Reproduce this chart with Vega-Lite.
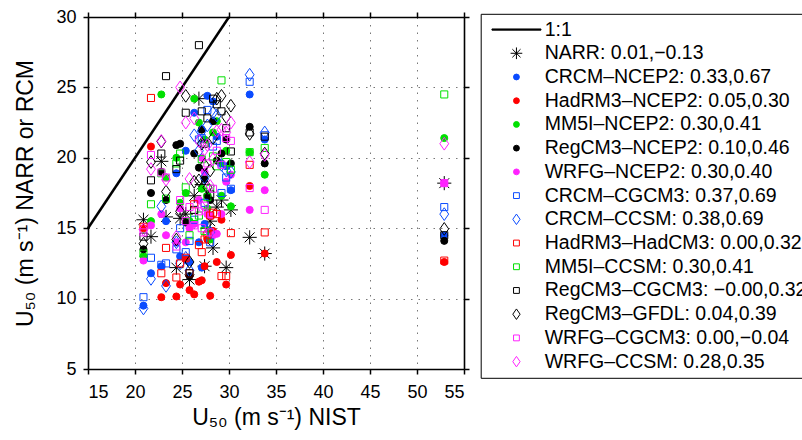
{
  "$schema": "https://vega.github.io/schema/vega-lite/v6.json",
  "autosize": {"type": "none"},
  "padding": {"left": 88, "top": 17, "right": 338, "bottom": 71},
  "width": 376,
  "height": 352,
  "config": {
    "font": "Liberation Sans",
    "view": {"stroke": null},
    "axis": {
      "domainColor": "black", "domainWidth": 1.6,
      "tickColor": "black", "tickWidth": 1.5, "tickSize": 5,
      "labelFont": "Liberation Sans", "labelFontSize": 18, "labelColor": "black",
      "titleFont": "Liberation Sans", "titleFontSize": 23, "titleFontWeight": "normal", "titleColor": "black",
      "gridColor": "#777777", "gridDash": [1.5, 6], "gridWidth": 1
    }
  },
  "layer": [
    {
      "data": {"values": [{"x": 15, "y": 15}, {"x": 30, "y": 30}]},
      "mark": {"type": "line", "stroke": "black", "strokeWidth": 2.5},
      "encoding": {
        "x": {"field": "x", "type": "quantitative",
          "scale": {"domain": [15, 55], "nice": false, "zero": false},
          "axis": {"orient": "bottom", "values": [15, 20, 25, 30, 35, 40, 45, 50, 55], "grid": true, "labelPadding": 9, "titlePadding": 5, "title": "U₅₀ (m s⁻¹) NIST"}},
        "y": {"field": "y", "type": "quantitative",
          "scale": {"domain": [5, 30], "nice": false, "zero": false},
          "axis": {"orient": "left", "values": [5, 10, 15, 20, 25, 30], "grid": true, "labelPadding": 7, "titlePadding": 18, "title": "U₅₀ (m s⁻¹) NARR or RCM"}}
      }
    },
    {
      "data": {"values": [
        {"m":"NARR","x":20.9,"y":15.6},{"m":"NARR","x":21.7,"y":14.4},{"m":"NARR","x":22.8,"y":19.75},{"m":"NARR","x":23.3,"y":15.8},{"m":"NARR","x":24.4,"y":12.2},{"m":"NARR","x":24.8,"y":15.7},{"m":"NARR","x":25.4,"y":16.0},{"m":"NARR","x":25.8,"y":11.35},{"m":"NARR","x":26.3,"y":17.3},{"m":"NARR","x":26.8,"y":24.2},{"m":"NARR","x":27.1,"y":18.1},{"m":"NARR","x":27.4,"y":12.3},{"m":"NARR","x":27.7,"y":15.0},{"m":"NARR","x":28.0,"y":15.5},{"m":"NARR","x":28.3,"y":13.6},{"m":"NARR","x":28.7,"y":16.5},{"m":"NARR","x":29.2,"y":17.0},{"m":"NARR","x":29.7,"y":12.2},{"m":"NARR","x":30.2,"y":16.3},{"m":"NARR","x":32.2,"y":14.35},{"m":"NARR","x":33.8,"y":13.2},{"m":"NARR","x":52.9,"y":18.2},
        {"m":"CRCM-NCEP2","x":20.9,"y":9.5},{"m":"CRCM-NCEP2","x":21.7,"y":11.8},{"m":"CRCM-NCEP2","x":22.8,"y":12.3},{"m":"CRCM-NCEP2","x":23.3,"y":15.5},{"m":"CRCM-NCEP2","x":24.4,"y":18.9},{"m":"CRCM-NCEP2","x":24.8,"y":13.0},{"m":"CRCM-NCEP2","x":25.4,"y":20.5},{"m":"CRCM-NCEP2","x":25.8,"y":12.6},{"m":"CRCM-NCEP2","x":26.3,"y":23.2},{"m":"CRCM-NCEP2","x":26.8,"y":14.0},{"m":"CRCM-NCEP2","x":27.1,"y":12.2},{"m":"CRCM-NCEP2","x":27.4,"y":15.3},{"m":"CRCM-NCEP2","x":27.7,"y":24.4},{"m":"CRCM-NCEP2","x":28.0,"y":14.6},{"m":"CRCM-NCEP2","x":28.3,"y":24.0},{"m":"CRCM-NCEP2","x":28.7,"y":21.5},{"m":"CRCM-NCEP2","x":29.2,"y":19.6},{"m":"CRCM-NCEP2","x":29.7,"y":19.4},{"m":"CRCM-NCEP2","x":30.2,"y":17.7},{"m":"CRCM-NCEP2","x":32.2,"y":24.5},{"m":"CRCM-NCEP2","x":33.8,"y":21.3},{"m":"CRCM-NCEP2","x":52.9,"y":14.5},
        {"m":"HadRM3-NCEP2","x":20.9,"y":15.0},{"m":"HadRM3-NCEP2","x":21.7,"y":20.8},{"m":"HadRM3-NCEP2","x":22.8,"y":10.1},{"m":"HadRM3-NCEP2","x":23.3,"y":11.1},{"m":"HadRM3-NCEP2","x":24.4,"y":10.15},{"m":"HadRM3-NCEP2","x":24.8,"y":11.0},{"m":"HadRM3-NCEP2","x":25.4,"y":12.8},{"m":"HadRM3-NCEP2","x":25.8,"y":10.6},{"m":"HadRM3-NCEP2","x":26.3,"y":10.3},{"m":"HadRM3-NCEP2","x":26.8,"y":11.2},{"m":"HadRM3-NCEP2","x":27.1,"y":11.3},{"m":"HadRM3-NCEP2","x":27.4,"y":12.3},{"m":"HadRM3-NCEP2","x":27.7,"y":14.2},{"m":"HadRM3-NCEP2","x":28.0,"y":10.2},{"m":"HadRM3-NCEP2","x":28.3,"y":14.8},{"m":"HadRM3-NCEP2","x":28.7,"y":12.6},{"m":"HadRM3-NCEP2","x":29.2,"y":15.6},{"m":"HadRM3-NCEP2","x":29.7,"y":11.0},{"m":"HadRM3-NCEP2","x":30.2,"y":13.1},{"m":"HadRM3-NCEP2","x":32.2,"y":18.0},{"m":"HadRM3-NCEP2","x":33.8,"y":13.2},{"m":"HadRM3-NCEP2","x":52.9,"y":12.6},
        {"m":"MM5I-NCEP2","x":20.9,"y":13.0},{"m":"MM5I-NCEP2","x":21.7,"y":15.5},{"m":"MM5I-NCEP2","x":22.8,"y":24.5},{"m":"MM5I-NCEP2","x":23.3,"y":18.6},{"m":"MM5I-NCEP2","x":24.4,"y":20.0},{"m":"MM5I-NCEP2","x":24.8,"y":16.8},{"m":"MM5I-NCEP2","x":25.4,"y":17.5},{"m":"MM5I-NCEP2","x":25.8,"y":15.5},{"m":"MM5I-NCEP2","x":26.3,"y":24.2},{"m":"MM5I-NCEP2","x":26.8,"y":22.5},{"m":"MM5I-NCEP2","x":27.1,"y":17.8},{"m":"MM5I-NCEP2","x":27.4,"y":21.3},{"m":"MM5I-NCEP2","x":27.7,"y":16.4},{"m":"MM5I-NCEP2","x":28.0,"y":14.2},{"m":"MM5I-NCEP2","x":28.3,"y":21.8},{"m":"MM5I-NCEP2","x":28.7,"y":22.6},{"m":"MM5I-NCEP2","x":29.2,"y":17.3},{"m":"MM5I-NCEP2","x":29.7,"y":20.5},{"m":"MM5I-NCEP2","x":30.2,"y":16.55},{"m":"MM5I-NCEP2","x":32.2,"y":20.4},{"m":"MM5I-NCEP2","x":33.8,"y":18.8},{"m":"MM5I-NCEP2","x":52.9,"y":21.4},
        {"m":"RegCM3-NCEP2","x":20.9,"y":13.5},{"m":"RegCM3-NCEP2","x":21.7,"y":17.5},{"m":"RegCM3-NCEP2","x":22.8,"y":19.0},{"m":"RegCM3-NCEP2","x":23.3,"y":17.0},{"m":"RegCM3-NCEP2","x":24.4,"y":20.9},{"m":"RegCM3-NCEP2","x":24.8,"y":21.0},{"m":"RegCM3-NCEP2","x":25.4,"y":15.4},{"m":"RegCM3-NCEP2","x":25.8,"y":11.6},{"m":"RegCM3-NCEP2","x":26.3,"y":20.3},{"m":"RegCM3-NCEP2","x":26.8,"y":19.3},{"m":"RegCM3-NCEP2","x":27.1,"y":22.0},{"m":"RegCM3-NCEP2","x":27.4,"y":18.5},{"m":"RegCM3-NCEP2","x":27.7,"y":17.3},{"m":"RegCM3-NCEP2","x":28.0,"y":17.0},{"m":"RegCM3-NCEP2","x":28.3,"y":22.6},{"m":"RegCM3-NCEP2","x":28.7,"y":19.8},{"m":"RegCM3-NCEP2","x":29.2,"y":20.3},{"m":"RegCM3-NCEP2","x":29.7,"y":21.3},{"m":"RegCM3-NCEP2","x":30.2,"y":19.6},{"m":"RegCM3-NCEP2","x":32.2,"y":22.2},{"m":"RegCM3-NCEP2","x":33.8,"y":19.6},{"m":"RegCM3-NCEP2","x":52.9,"y":14.1},
        {"m":"WRFG-NCEP2","x":20.9,"y":12.7},{"m":"WRFG-NCEP2","x":21.7,"y":15.2},{"m":"WRFG-NCEP2","x":22.8,"y":16.0},{"m":"WRFG-NCEP2","x":23.3,"y":14.5},{"m":"WRFG-NCEP2","x":24.4,"y":14.0},{"m":"WRFG-NCEP2","x":24.8,"y":16.4},{"m":"WRFG-NCEP2","x":25.4,"y":14.0},{"m":"WRFG-NCEP2","x":25.8,"y":15.0},{"m":"WRFG-NCEP2","x":26.3,"y":15.3},{"m":"WRFG-NCEP2","x":26.8,"y":17.0},{"m":"WRFG-NCEP2","x":27.1,"y":20.0},{"m":"WRFG-NCEP2","x":27.4,"y":19.0},{"m":"WRFG-NCEP2","x":27.7,"y":16.0},{"m":"WRFG-NCEP2","x":28.0,"y":15.9},{"m":"WRFG-NCEP2","x":28.3,"y":14.5},{"m":"WRFG-NCEP2","x":28.7,"y":14.6},{"m":"WRFG-NCEP2","x":29.2,"y":16.0},{"m":"WRFG-NCEP2","x":29.7,"y":18.3},{"m":"WRFG-NCEP2","x":30.2,"y":18.8},{"m":"WRFG-NCEP2","x":32.2,"y":16.3},{"m":"WRFG-NCEP2","x":33.8,"y":17.7},{"m":"WRFG-NCEP2","x":52.9,"y":18.2},
        {"m":"CRCM-CGCM3","x":20.9,"y":10.1},{"m":"CRCM-CGCM3","x":21.7,"y":12.9},{"m":"CRCM-CGCM3","x":22.8,"y":12.4},{"m":"CRCM-CGCM3","x":23.3,"y":12.5},{"m":"CRCM-CGCM3","x":24.4,"y":13.5},{"m":"CRCM-CGCM3","x":24.8,"y":15.0},{"m":"CRCM-CGCM3","x":25.4,"y":13.3},{"m":"CRCM-CGCM3","x":25.8,"y":14.1},{"m":"CRCM-CGCM3","x":26.3,"y":15.6},{"m":"CRCM-CGCM3","x":26.8,"y":21.3},{"m":"CRCM-CGCM3","x":27.1,"y":21.4},{"m":"CRCM-CGCM3","x":27.4,"y":16.8},{"m":"CRCM-CGCM3","x":27.7,"y":23.4},{"m":"CRCM-CGCM3","x":28.0,"y":14.0},{"m":"CRCM-CGCM3","x":28.3,"y":20.8},{"m":"CRCM-CGCM3","x":28.7,"y":21.2},{"m":"CRCM-CGCM3","x":29.2,"y":17.5},{"m":"CRCM-CGCM3","x":29.7,"y":18.6},{"m":"CRCM-CGCM3","x":30.2,"y":17.8},{"m":"CRCM-CGCM3","x":32.2,"y":25.4},{"m":"CRCM-CGCM3","x":33.8,"y":21.6},{"m":"CRCM-CGCM3","x":52.9,"y":16.5},
        {"m":"CRCM-CCSM","x":20.9,"y":9.3},{"m":"CRCM-CCSM","x":21.7,"y":11.4},{"m":"CRCM-CCSM","x":22.8,"y":16.55},{"m":"CRCM-CCSM","x":23.3,"y":10.9},{"m":"CRCM-CCSM","x":24.4,"y":14.0},{"m":"CRCM-CCSM","x":24.8,"y":12.5},{"m":"CRCM-CCSM","x":25.4,"y":12.9},{"m":"CRCM-CCSM","x":25.8,"y":12.0},{"m":"CRCM-CCSM","x":26.3,"y":21.6},{"m":"CRCM-CCSM","x":26.8,"y":20.5},{"m":"CRCM-CCSM","x":27.1,"y":21.9},{"m":"CRCM-CCSM","x":27.4,"y":18.6},{"m":"CRCM-CCSM","x":27.7,"y":22.3},{"m":"CRCM-CCSM","x":28.0,"y":14.7},{"m":"CRCM-CCSM","x":28.3,"y":23.2},{"m":"CRCM-CCSM","x":28.7,"y":23.0},{"m":"CRCM-CCSM","x":29.2,"y":19.5},{"m":"CRCM-CCSM","x":29.7,"y":19.1},{"m":"CRCM-CCSM","x":30.2,"y":19.0},{"m":"CRCM-CCSM","x":32.2,"y":25.9},{"m":"CRCM-CCSM","x":33.8,"y":21.8},{"m":"CRCM-CCSM","x":52.9,"y":16.0},
        {"m":"HadRM3-HadCM3","x":20.9,"y":15.1},{"m":"HadRM3-HadCM3","x":21.7,"y":24.25},{"m":"HadRM3-HadCM3","x":22.8,"y":11.8},{"m":"HadRM3-HadCM3","x":23.3,"y":13.6},{"m":"HadRM3-HadCM3","x":24.4,"y":11.5},{"m":"HadRM3-HadCM3","x":24.8,"y":12.5},{"m":"HadRM3-HadCM3","x":25.4,"y":12.9},{"m":"HadRM3-HadCM3","x":25.8,"y":11.8},{"m":"HadRM3-HadCM3","x":26.3,"y":16.7},{"m":"HadRM3-HadCM3","x":26.8,"y":13.8},{"m":"HadRM3-HadCM3","x":27.1,"y":13.3},{"m":"HadRM3-HadCM3","x":27.4,"y":14.2},{"m":"HadRM3-HadCM3","x":27.7,"y":14.5},{"m":"HadRM3-HadCM3","x":28.0,"y":15.9},{"m":"HadRM3-HadCM3","x":28.3,"y":16.1},{"m":"HadRM3-HadCM3","x":28.7,"y":16.0},{"m":"HadRM3-HadCM3","x":29.2,"y":11.6},{"m":"HadRM3-HadCM3","x":29.7,"y":11.6},{"m":"HadRM3-HadCM3","x":30.2,"y":14.65},{"m":"HadRM3-HadCM3","x":32.2,"y":19.5},{"m":"HadRM3-HadCM3","x":33.8,"y":14.7},{"m":"HadRM3-HadCM3","x":52.9,"y":12.7},
        {"m":"MM5I-CCSM","x":20.9,"y":13.2},{"m":"MM5I-CCSM","x":21.7,"y":16.7},{"m":"MM5I-CCSM","x":22.8,"y":18.9},{"m":"MM5I-CCSM","x":23.3,"y":17.1},{"m":"MM5I-CCSM","x":24.4,"y":19.6},{"m":"MM5I-CCSM","x":24.8,"y":20.3},{"m":"MM5I-CCSM","x":25.4,"y":17.9},{"m":"MM5I-CCSM","x":25.8,"y":14.5},{"m":"MM5I-CCSM","x":26.3,"y":15.8},{"m":"MM5I-CCSM","x":26.8,"y":15.9},{"m":"MM5I-CCSM","x":27.1,"y":19.9},{"m":"MM5I-CCSM","x":27.4,"y":14.8},{"m":"MM5I-CCSM","x":27.7,"y":17.2},{"m":"MM5I-CCSM","x":28.0,"y":17.8},{"m":"MM5I-CCSM","x":28.3,"y":20.1},{"m":"MM5I-CCSM","x":28.7,"y":19.4},{"m":"MM5I-CCSM","x":29.2,"y":25.5},{"m":"MM5I-CCSM","x":29.7,"y":19.7},{"m":"MM5I-CCSM","x":30.2,"y":19.15},{"m":"MM5I-CCSM","x":32.2,"y":20.4},{"m":"MM5I-CCSM","x":33.8,"y":20.7},{"m":"MM5I-CCSM","x":52.9,"y":24.5},
        {"m":"RegCM3-CGCM3","x":20.9,"y":14.4},{"m":"RegCM3-CGCM3","x":21.7,"y":18.4},{"m":"RegCM3-CGCM3","x":22.8,"y":20.3},{"m":"RegCM3-CGCM3","x":23.3,"y":25.8},{"m":"RegCM3-CGCM3","x":24.4,"y":19.2},{"m":"RegCM3-CGCM3","x":24.8,"y":19.8},{"m":"RegCM3-CGCM3","x":25.4,"y":23.2},{"m":"RegCM3-CGCM3","x":25.8,"y":11.8},{"m":"RegCM3-CGCM3","x":26.3,"y":16.3},{"m":"RegCM3-CGCM3","x":26.8,"y":28.0},{"m":"RegCM3-CGCM3","x":27.1,"y":23.3},{"m":"RegCM3-CGCM3","x":27.4,"y":21.0},{"m":"RegCM3-CGCM3","x":27.7,"y":22.8},{"m":"RegCM3-CGCM3","x":28.0,"y":17.4},{"m":"RegCM3-CGCM3","x":28.3,"y":24.2},{"m":"RegCM3-CGCM3","x":28.7,"y":23.8},{"m":"RegCM3-CGCM3","x":29.2,"y":23.3},{"m":"RegCM3-CGCM3","x":29.7,"y":22.1},{"m":"RegCM3-CGCM3","x":30.2,"y":20.45},{"m":"RegCM3-CGCM3","x":32.2,"y":21.8},{"m":"RegCM3-CGCM3","x":33.8,"y":21.5},{"m":"RegCM3-CGCM3","x":52.9,"y":14.5},
        {"m":"RegCM3-GFDL","x":20.9,"y":13.9},{"m":"RegCM3-GFDL","x":21.7,"y":19.7},{"m":"RegCM3-GFDL","x":22.8,"y":21.15},{"m":"RegCM3-GFDL","x":23.3,"y":17.6},{"m":"RegCM3-GFDL","x":24.4,"y":14.2},{"m":"RegCM3-GFDL","x":24.8,"y":16.2},{"m":"RegCM3-GFDL","x":25.4,"y":24.4},{"m":"RegCM3-GFDL","x":25.8,"y":12.6},{"m":"RegCM3-GFDL","x":26.3,"y":18.3},{"m":"RegCM3-GFDL","x":26.8,"y":18.4},{"m":"RegCM3-GFDL","x":27.1,"y":21.0},{"m":"RegCM3-GFDL","x":27.4,"y":19.5},{"m":"RegCM3-GFDL","x":27.7,"y":17.9},{"m":"RegCM3-GFDL","x":28.0,"y":19.1},{"m":"RegCM3-GFDL","x":28.3,"y":21.4},{"m":"RegCM3-GFDL","x":28.7,"y":24.2},{"m":"RegCM3-GFDL","x":29.2,"y":24.4},{"m":"RegCM3-GFDL","x":29.7,"y":22.9},{"m":"RegCM3-GFDL","x":30.2,"y":23.7},{"m":"RegCM3-GFDL","x":32.2,"y":21.7},{"m":"RegCM3-GFDL","x":33.8,"y":20.3},{"m":"RegCM3-GFDL","x":52.9,"y":14.95},
        {"m":"WRFG-CGCM3","x":20.9,"y":14.7},{"m":"WRFG-CGCM3","x":21.7,"y":20.2},{"m":"WRFG-CGCM3","x":22.8,"y":18.96},{"m":"WRFG-CGCM3","x":23.3,"y":18.6},{"m":"WRFG-CGCM3","x":24.4,"y":13.7},{"m":"WRFG-CGCM3","x":24.8,"y":17.0},{"m":"WRFG-CGCM3","x":25.4,"y":15.5},{"m":"WRFG-CGCM3","x":25.8,"y":16.5},{"m":"WRFG-CGCM3","x":26.3,"y":15.2},{"m":"WRFG-CGCM3","x":26.8,"y":16.2},{"m":"WRFG-CGCM3","x":27.1,"y":15.0},{"m":"WRFG-CGCM3","x":27.4,"y":16.6},{"m":"WRFG-CGCM3","x":27.7,"y":19.6},{"m":"WRFG-CGCM3","x":28.0,"y":14.7},{"m":"WRFG-CGCM3","x":28.3,"y":17.8},{"m":"WRFG-CGCM3","x":28.7,"y":20.5},{"m":"WRFG-CGCM3","x":29.2,"y":19.5},{"m":"WRFG-CGCM3","x":29.7,"y":21.4},{"m":"WRFG-CGCM3","x":30.2,"y":21.2},{"m":"WRFG-CGCM3","x":32.2,"y":17.85},{"m":"WRFG-CGCM3","x":33.8,"y":16.3},{"m":"WRFG-CGCM3","x":52.9,"y":18.2},
        {"m":"WRFG-CCSM","x":20.9,"y":14.9},{"m":"WRFG-CCSM","x":21.7,"y":19.2},{"m":"WRFG-CCSM","x":22.8,"y":21.2},{"m":"WRFG-CCSM","x":23.3,"y":18.45},{"m":"WRFG-CCSM","x":24.4,"y":14.4},{"m":"WRFG-CCSM","x":24.8,"y":25.0},{"m":"WRFG-CCSM","x":25.4,"y":22.5},{"m":"WRFG-CCSM","x":25.8,"y":18.5},{"m":"WRFG-CCSM","x":26.3,"y":22.8},{"m":"WRFG-CCSM","x":26.8,"y":21.2},{"m":"WRFG-CCSM","x":27.1,"y":16.5},{"m":"WRFG-CCSM","x":27.4,"y":20.6},{"m":"WRFG-CCSM","x":27.7,"y":20.9},{"m":"WRFG-CCSM","x":28.0,"y":18.0},{"m":"WRFG-CCSM","x":28.3,"y":19.9},{"m":"WRFG-CCSM","x":28.7,"y":21.9},{"m":"WRFG-CCSM","x":29.2,"y":22.0},{"m":"WRFG-CCSM","x":29.7,"y":21.8},{"m":"WRFG-CCSM","x":30.2,"y":22.5},{"m":"WRFG-CCSM","x":32.2,"y":19.7},{"m":"WRFG-CCSM","x":33.8,"y":20.2},{"m":"WRFG-CCSM","x":52.9,"y":21.0}
      ]},
      "mark": {"type": "point", "size": 50, "strokeWidth": 1, "opacity": 1},
      "encoding": {
        "x": {"field": "x", "type": "quantitative",
          "scale": {"domain": [15, 55], "nice": false, "zero": false},
          "axis": {"orient": "top", "values": [15, 20, 25, 30, 35, 40, 45, 50, 55], "grid": false, "labels": false, "title": null}},
        "y": {"field": "y", "type": "quantitative",
          "scale": {"domain": [5, 30], "nice": false, "zero": false},
          "axis": {"orient": "right", "values": [5, 10, 15, 20, 25, 30], "grid": false, "labels": false, "title": null}},
        "shape": {"field": "m", "type": "nominal",
          "scale": {
            "domain": ["1:1","NARR","CRCM-NCEP2","HadRM3-NCEP2","MM5I-NCEP2","RegCM3-NCEP2","WRFG-NCEP2","CRCM-CGCM3","CRCM-CCSM","HadRM3-HadCM3","MM5I-CCSM","RegCM3-CGCM3","RegCM3-GFDL","WRFG-CGCM3","WRFG-CCSM"],
            "range": ["M-8.4,-0.2H8.4V0.2H-8.4Z","M-2,0H2M0,-2V2M-1.4,-1.4L1.4,1.4M-1.4,1.4L1.4,-1.4","circle","circle","circle","circle","circle","square","M0,-1.8L1.25,0L0,1.8L-1.25,0Z","square","square","square","M0,-1.8L1.25,0L0,1.8L-1.25,0Z","square","M0,-1.8L1.25,0L0,1.8L-1.25,0Z"]},
          "legend": {"title": null, "orient": "none", "legendX": 392.7, "legendY": -3.2, "direction": "vertical", "columns": 1, "padding": 6, "strokeColor": "black", "fillColor": "white", "symbolSize": 34, "symbolStrokeWidth": 1, "symbolOffset": 20, "labelOffset": 18.5, "labelFontSize": 19.5, "labelFont": "Liberation Sans", "labelColor": "black", "labelLimit": 500, "rowPadding": 2.72,
            "labelExpr": "['1:1','NARR: 0.01,−0.13','CRCM–NCEP2: 0.33,0.67','HadRM3–NCEP2: 0.05,0.30','MM5I–NCEP2: 0.30,0.41','RegCM3–NCEP2: 0.10,0.46','WRFG–NCEP2: 0.30,0.40','CRCM–CGCM3: 0.37,0.69','CRCM–CCSM: 0.38,0.69','HadRM3–HadCM3: 0.00,0.32','MM5I–CCSM: 0.30,0.41','RegCM3–CGCM3: −0.00,0.32','RegCM3–GFDL: 0.04,0.39','WRFG–CGCM3: 0.00,−0.04','WRFG–CCSM: 0.28,0.35'][indexof(['1:1','NARR','CRCM-NCEP2','HadRM3-NCEP2','MM5I-NCEP2','RegCM3-NCEP2','WRFG-NCEP2','CRCM-CGCM3','CRCM-CCSM','HadRM3-HadCM3','MM5I-CCSM','RegCM3-CGCM3','RegCM3-GFDL','WRFG-CGCM3','WRFG-CCSM'], datum.label)]"}},
        "stroke": {"field": "m", "type": "nominal",
          "scale": {
            "domain": ["1:1","NARR","CRCM-NCEP2","HadRM3-NCEP2","MM5I-NCEP2","RegCM3-NCEP2","WRFG-NCEP2","CRCM-CGCM3","CRCM-CCSM","HadRM3-HadCM3","MM5I-CCSM","RegCM3-CGCM3","RegCM3-GFDL","WRFG-CGCM3","WRFG-CCSM"],
            "range": ["#000000","#000000","#0a4bff","#ff0000","#00e000","#000000","#ff22ff","#0a4bff","#0a4bff","#ff0000","#00e000","#000000","#000000","#ff22ff","#ff22ff"]},
          "legend": {"title": null, "orient": "none", "legendX": 392.7, "legendY": -3.2, "direction": "vertical", "columns": 1, "padding": 6, "strokeColor": "black", "fillColor": "white", "symbolSize": 34, "symbolStrokeWidth": 1, "symbolOffset": 20, "labelOffset": 18.5, "labelFontSize": 19.5, "labelFont": "Liberation Sans", "labelColor": "black", "labelLimit": 500, "rowPadding": 2.72}},
        "fill": {"field": "m", "type": "nominal",
          "scale": {
            "domain": ["1:1","NARR","CRCM-NCEP2","HadRM3-NCEP2","MM5I-NCEP2","RegCM3-NCEP2","WRFG-NCEP2","CRCM-CGCM3","CRCM-CCSM","HadRM3-HadCM3","MM5I-CCSM","RegCM3-CGCM3","RegCM3-GFDL","WRFG-CGCM3","WRFG-CCSM"],
            "range": ["#000000","transparent","#0a4bff","#ff0000","#00e000","#000000","#ff22ff","transparent","transparent","transparent","transparent","transparent","transparent","transparent","transparent"]},
          "legend": {"title": null, "orient": "none", "legendX": 392.7, "legendY": -3.2, "direction": "vertical", "columns": 1, "padding": 6, "strokeColor": "black", "fillColor": "white", "symbolSize": 34, "symbolStrokeWidth": 1, "symbolOffset": 20, "labelOffset": 18.5, "labelFontSize": 19.5, "labelFont": "Liberation Sans", "labelColor": "black", "labelLimit": 500, "rowPadding": 2.72}}
      }
    }
  ],
  "resolve": {"axis": {"x": "independent", "y": "independent"}}
}
